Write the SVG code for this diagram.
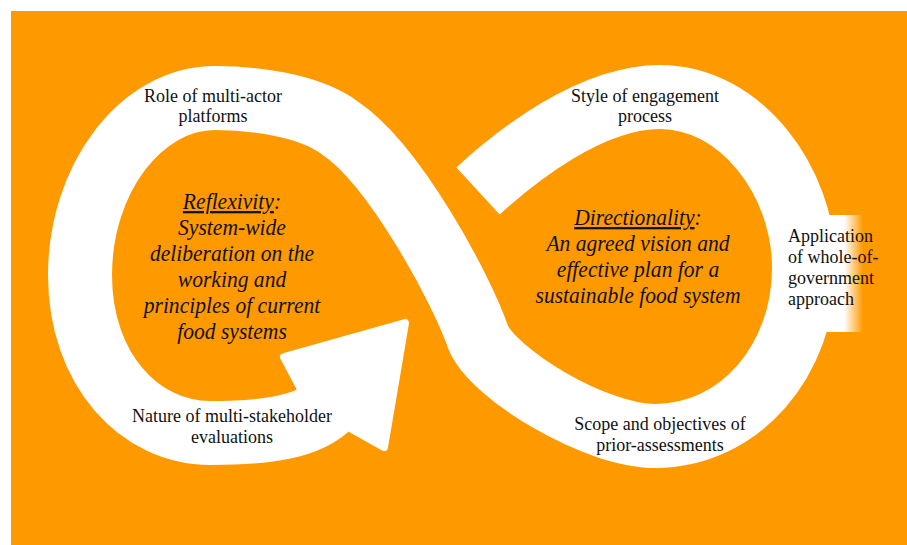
<svg xmlns="http://www.w3.org/2000/svg" width="907" height="545" viewBox="0 0 907 545">
  <style>
    .band { fill: none; stroke: #ffffff; stroke-width: 64; stroke-linecap: butt; stroke-linejoin: round; }
    .head { fill: #ffffff; stroke: #ffffff; stroke-width: 8; stroke-linejoin: round; }
    .label { font-family: "Liberation Serif", "Times New Roman", serif; font-size: 18px; fill: #111111; }
    .mid { text-anchor: middle; }
    .theme { font-family: "Liberation Serif", "Times New Roman", serif; font-size: 21.6px; font-style: italic; fill: #111111; text-anchor: middle; }
    .ul { text-decoration: underline; }
  </style>
  <defs>
    <linearGradient id="fadeRight" gradientUnits="userSpaceOnUse" x1="836" y1="0" x2="863" y2="0">
      <stop offset="0" stop-color="#ffffff"/>
      <stop offset="0.3" stop-color="#ffffff"/>
      <stop offset="1" stop-color="#ff9900"/>
    </linearGradient>
  </defs>

  <!-- page and orange panel -->
  <rect x="0" y="0" width="907" height="545" fill="#ffffff"/>
  <rect x="11" y="11" width="896" height="534" fill="#ff9900"/>

  <!-- infinity band with arrowhead -->
  <g id="connectors">
    <path id="loop-band" class="band" d="M 478,191 C 515,157 590,97 660,97 C 740,97 804,180 804,268 C 804,360 740,436 655,436 C 595,436 493,374 478,337 C 462,290 395,165 340,128 C 308,104 250,98 215,98 C 140,98 80,180 80,275 C 80,370 140,433 210,433 C 260,433 308,429 331,404"/>
    <path id="arrow-head" class="head" d="M 300,387 L 284,357 L 405,323 L 384,447 L 352,429 Z"/>
  </g>

  <!-- right side label backdrop -->
  <rect x="820" y="215" width="43" height="117" fill="url(#fadeRight)"/>

  <!-- text is drawn slightly tall: groups scale y, so y values are baseline / scale -->
  <g id="node-reflexivity" transform="scale(1,1.05)">
    <text class="theme" x="232" y="199.05"><tspan class="ul">Reflexivity</tspan>:</text>
    <text class="theme" x="232" y="223.81">System-wide</text>
    <text class="theme" x="232" y="248.57">deliberation on the</text>
    <text class="theme" x="232" y="273.33">working and</text>
    <text class="theme" x="232" y="298.10">principles of current</text>
    <text class="theme" x="232" y="322.86">food systems</text>
  </g>

  <g id="node-directionality" transform="scale(1,1.05)">
    <text class="theme" x="638" y="214.29"><tspan class="ul">Directionality</tspan>:</text>
    <text class="theme" x="638" y="239.05">An agreed vision and</text>
    <text class="theme" x="638" y="263.81">effective plan for a</text>
    <text class="theme" x="638" y="288.57">sustainable food system</text>
  </g>

  <g id="node-platforms" transform="scale(1,1.1)">
    <text class="label mid" x="213" y="92.73">Role of multi-actor</text>
    <text class="label mid" x="213" y="110.91">platforms</text>
  </g>

  <g id="node-evaluations" transform="scale(1,1.1)">
    <text class="label mid" x="232" y="383.64">Nature of multi-stakeholder</text>
    <text class="label mid" x="232" y="402.73">evaluations</text>
  </g>

  <g id="node-engagement" transform="scale(1,1.1)">
    <text class="label mid" x="645" y="92.73">Style of engagement</text>
    <text class="label mid" x="645" y="110.91">process</text>
  </g>

  <g id="node-assessments" transform="scale(1,1.1)">
    <text class="label mid" x="660" y="390.91">Scope and objectives of</text>
    <text class="label mid" x="660" y="410.00">prior-assessments</text>
  </g>

  <g id="node-government" transform="scale(1,1.1)">
    <text class="label" x="788" y="220.00">Application</text>
    <text class="label" x="788" y="239.09">of whole-of-</text>
    <text class="label" x="788" y="258.18">government</text>
    <text class="label" x="788" y="277.27">approach</text>
  </g>
</svg>
